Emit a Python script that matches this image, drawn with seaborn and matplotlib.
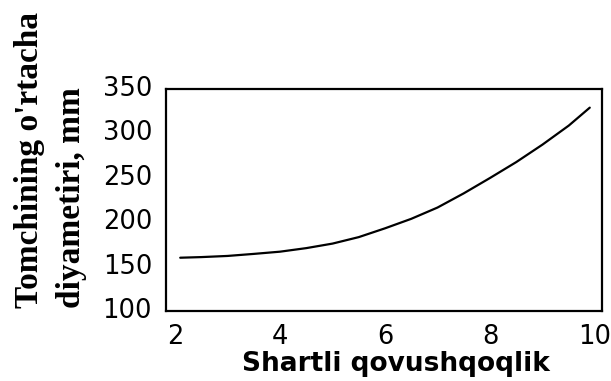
import matplotlib
matplotlib.use("Agg")
import matplotlib.pyplot as plt
from matplotlib.transforms import ScaledTranslation
import pandas as pd
import seaborn as sns

# Conditional viscosity vs. mean droplet diameter
viscosity = [2.1, 2.5, 3.0, 3.5, 4.0, 4.5, 5.0, 5.5, 6.0, 6.5, 7.0, 7.5, 8.0, 8.5, 9.0, 9.5, 9.9]
diameter = [160.0, 160.7, 162.0, 164.3, 166.8, 170.8, 175.9, 183.2, 193.1, 203.8,
            216.5, 232.5, 249.8, 267.7, 287.4, 308.8, 329.0]

x_ticks = [2, 4, 6, 8, 10]
y_ticks = [100, 150, 200, 250, 300, 350]

x_label = "Shartli qovushqoqlik"
y_label_lines = ["Tomchining o'rtacha", "diyametiri, mm"]

df = pd.DataFrame({"x": viscosity, "y": diameter})

sns.set_theme(style="white")
plt.rcParams["font.family"] = ["DejaVu Sans"]

W, H = 611, 381
fig = plt.figure(figsize=(W / 100, H / 100), dpi=100)
ax = fig.add_axes([166 / W, 1 - 311 / H, (602 - 166) / W, (311 - 89) / H])

sns.lineplot(data=df, x="x", y="y", ax=ax, color="black", linewidth=1.6)

ax.set_xlim(1.829, 10.133)
ax.set_ylim(100, 350)
ax.set_xticks(x_ticks)
ax.set_yticks(y_ticks)
ax.set_xticklabels([str(v) for v in x_ticks])
ax.set_yticklabels([str(v) for v in y_ticks])
ax.tick_params(axis="both", length=0, labelsize=18.5, colors="black")
ax.tick_params(axis="x", pad=9)
ax.tick_params(axis="y", pad=10)

for lbl in ax.get_yticklabels():
    lbl.set_transform(lbl.get_transform() + ScaledTranslation(0, 3 / 100, fig.dpi_scale_trans))

for side in ["left", "right", "top", "bottom"]:
    ax.spines[side].set_visible(True)
    ax.spines[side].set_color("black")
    ax.spines[side].set_linewidth(1.6)

ax.set_xlabel("")
ax.set_ylabel("")

fig.text(396 / W, 1 - 371 / H, x_label, ha="center", va="baseline",
         fontsize=19, fontweight="bold", family="DejaVu Sans", color="black")

for xb, line in zip([38, 80], y_label_lines):
    fig.text(xb / W, 1 - 308 / H, line, rotation=90, rotation_mode="anchor",
             ha="left", va="baseline", fontsize=24, fontweight="bold",
             family="Liberation Serif", color="black")

fig.savefig("out.png", dpi=100, facecolor="white")
